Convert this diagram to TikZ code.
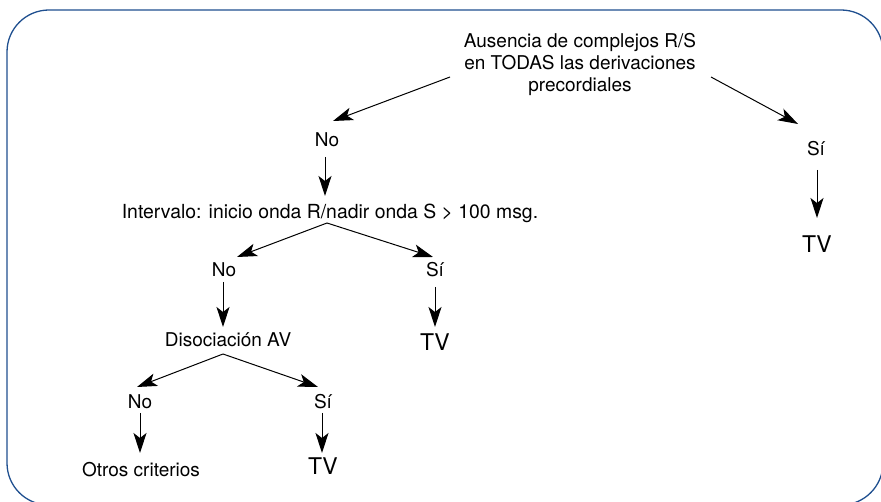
\documentclass[tikz,border=0pt]{standalone}
\usepackage{fontspec}
\setmainfont{TeX Gyre Heros}
\usetikzlibrary{arrows.meta,calc}
\definecolor{frameblue}{HTML}{1F4F8F}
\begin{document}
\begin{tikzpicture}[x=1pt,y=-1pt,
  lbl/.style={font=\fontsize{19}{22}\selectfont, inner sep=0pt, anchor=base},
  big/.style={font=\fontsize{23}{26}\selectfont, inner sep=0pt, anchor=base},
  arr/.style={-{Stealth[length=20pt,width=13pt,inset=5pt]}, line width=1pt},
  frame/.style={draw=frameblue, line width=1.3pt, rounded corners=42pt}]
\useasboundingbox (0,0) rectangle (881,502);
\draw[frame] (7,10) rectangle (883,505);

\node[lbl, align=center, anchor=center] (top) at (580,64) {Ausencia de complejos R/S\\en TODAS las derivaciones\\precordiales};
\node[lbl] (no1) at (327,147) {No};
\node[lbl] (si1) at (816,156) {Sí};
\node[big] (tv1) at (817,253) {TV};
\node[lbl, font=\fontsize{19.4}{22}\selectfont] (int) at (330,219) {Intervalo: inicio onda R/nadir onda S > 100 msg.};
\node[lbl] (no2) at (224,277) {No};
\node[lbl] (si2) at (435,277) {Sí};
\node[big] (tv2) at (435,351) {TV};
\node[lbl] (dis) at (228,347) {Disociación AV};
\node[lbl] (no3) at (140,409) {No};
\node[lbl] (si3) at (323,409) {Sí};
\node[lbl] (otros) at (141,476) {Otros criterios};
\node[big] (tv3) at (323,475) {TV};

\coordinate (intapex) at ($(int.base)+(-3,4)$);
\coordinate (disapex) at ($(dis.base)+(-5,7)$);

\draw[arr] ($(top.center)+(-130,13)$) -- ($(no1.base)+(6,-26)$);
\draw[arr] ($(top.center)+(131,13)$) -- ($(si1.base)+(-18,-32)$);
\draw[arr] ($(si1.base)+(1,14)$) -- ($(tv1.base)+(0,-35)$);
\draw[arr] ($(no1.base)+(-2,10)$) -- ($(int.base)+(-5,-23)$);
\draw[arr] (intapex) -- ($(no2.base)+(13,-20)$);
\draw[arr] (intapex) -- ($(si2.base)+(-2,-20)$);
\draw[arr] ($(no2.base)+(-1,5)$) -- ($(dis.base)+(-5,-20)$);
\draw[arr] ($(si2.base)+(0,10)$) -- ($(tv2.base)+(0,-24)$);
\draw[arr] (disapex) -- ($(no3.base)+(-3,-22)$);
\draw[arr] (disapex) -- ($(si3.base)+(-5,-22)$);
\draw[arr] ($(no3.base)+(0,4)$) -- ($(otros.base)+(-1,-23)$);
\draw[arr] ($(si3.base)+(-1,4)$) -- ($(tv3.base)+(-1,-22)$);
\end{tikzpicture}
\end{document}
